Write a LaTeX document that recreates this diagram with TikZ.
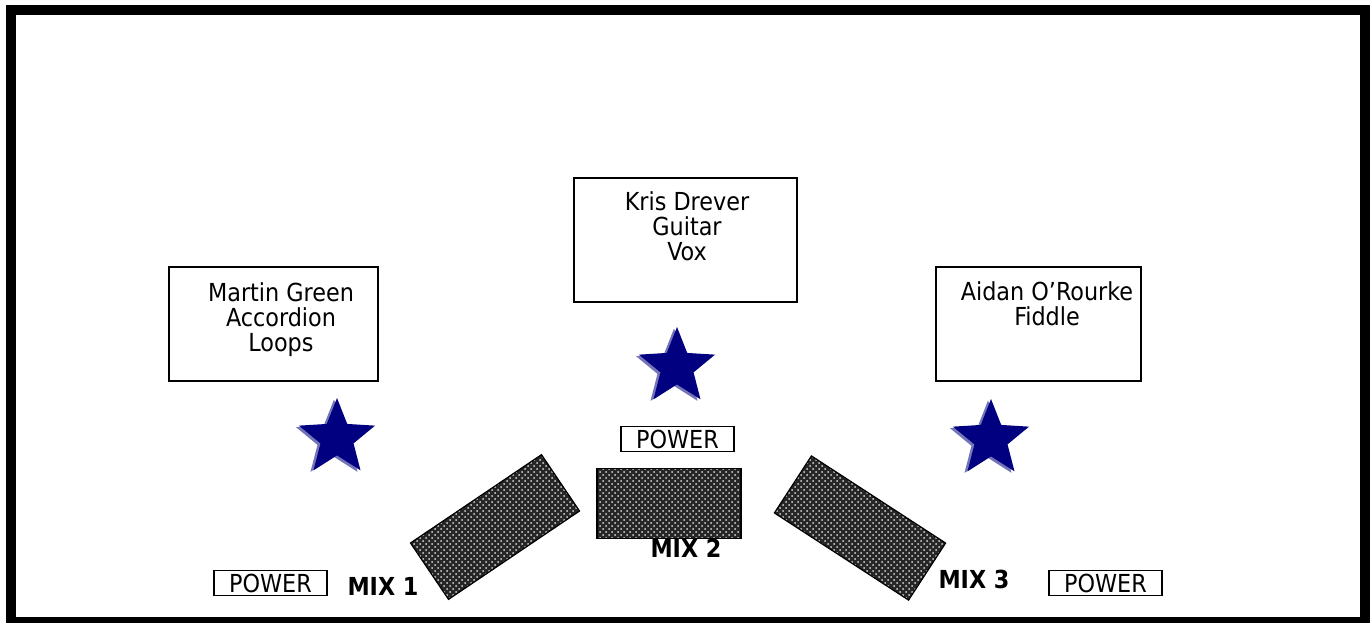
\documentclass[tikz,border=0pt]{standalone}
\usepackage{fontspec}
\setmainfont{DejaVu Sans Condensed}
\usetikzlibrary{shapes.geometric,patterns}
\definecolor{starblue}{HTML}{000080}
\definecolor{starshade}{HTML}{7474B8}
\tikzset{
  txt/.style={font=\fontsize{12.4}{12.6}\selectfont, inner sep=0pt},
  personbox/.style={draw, line width=1pt, inner sep=0pt},
  persontext/.style={txt, align=center, anchor=north},
  starshape/.style={star, star points=5, star point ratio=2.3, minimum size=40pt, inner sep=0pt, draw=none},
  powerbox/.style={txt, draw, line width=0.8pt, minimum width=56.5pt, minimum height=12.5pt},
  mixbox/.style={draw, line width=0.6pt, preaction={fill=black!85}, pattern=crosshatch dots, pattern color=white!85!black, inner sep=0pt},
  mixlabel/.style={txt, font=\fontsize{12.4}{13}\selectfont\bfseries}
}
\begin{document}
\begin{tikzpicture}[x=0.5pt,y=-0.5pt]
\useasboundingbox (0,0) rectangle (1372,622);
\draw[line width=5pt] (11,10) rectangle (1364.5,622);
% musician boxes
\node[personbox, minimum width=104.5pt, minimum height=57pt] (mbox) at (273.5,324) {};
\node[personbox, minimum width=111.5pt, minimum height=62pt] (kbox) at (685.5,240) {};
\node[personbox, minimum width=102.5pt, minimum height=57pt] (abox) at (1038.5,324) {};
\node[persontext] (mtext) at (281,282) {Martin Green\\Accordion\\Loops};
\node[persontext] (ktext) at (687,191) {Kris Drever\\Guitar\\Vox};
\node[persontext] (atext) at (1047,281) {Aidan O’Rourke\\Fiddle};
% stars
\node[starshape, fill=starshade] (s1b) at (334,439.5) {};
\node[starshape, fill=starblue] (s1) at (337,438) {};
\node[starshape, fill=starshade] (s2b) at (674,368.5) {};
\node[starshape, fill=starblue] (s2) at (677,367) {};
\node[starshape, fill=starshade] (s3b) at (988,440.5) {};
\node[starshape, fill=starblue] (s3) at (991,439) {};
% power
\node[powerbox] (p1) at (270.5,583) {POWER};
\node[powerbox] (p2) at (677.5,439) {POWER};
\node[powerbox] (p3) at (1105.5,583) {POWER};
% mixes
\node[mixbox, minimum width=79pt, minimum height=34pt, rotate=34] (mix1) at (495,527) {};
\node[mixbox, minimum width=72pt, minimum height=35pt] (mix2) at (669,503.5) {};
\node[mixbox, minimum width=80pt, minimum height=34pt, rotate=-33] (mix3) at (860,528) {};
\node[mixlabel] (l1) at (383,586) {MIX 1};
\node[mixlabel] (l2) at (686,548) {MIX 2};
\node[mixlabel] (l3) at (974,579) {MIX 3};
\end{tikzpicture}
\end{document}
